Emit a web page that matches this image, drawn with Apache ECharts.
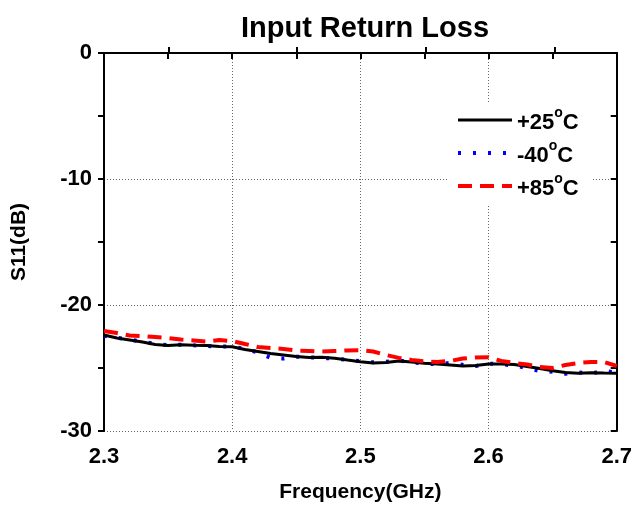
<!doctype html>
<html lang="en">
<head>
    <meta charset="UTF-8">
    <title>Input Return Loss</title>
    <script src="https://cdn.jsdelivr.net/npm/echarts@6.0.0/dist/echarts.min.js"></script>
    <style>
        html, body { margin: 0; padding: 0; background: #fff; }
        #chart { width: 635px; height: 511px; }
    </style>
</head>
<body>
<div id="chart"></div>
<script>
    // 频率 (GHz)
    const freq = [
        2.30, 2.31, 2.32, 2.33, 2.34, 2.35, 2.36, 2.37, 2.38, 2.39,
        2.40, 2.41, 2.42, 2.43, 2.44, 2.45, 2.46, 2.47, 2.48, 2.49,
        2.50, 2.51, 2.52, 2.53, 2.54, 2.55, 2.56, 2.57, 2.58, 2.59,
        2.60, 2.61, 2.62, 2.63, 2.64, 2.65, 2.66, 2.67, 2.68, 2.69, 2.70
    ]
    // S11 (dB) at +25°C
    const s11_25 = [
        -22.38, -22.62, -22.78, -22.94, -23.13, -23.22, -23.15, -23.19, -23.22, -23.29,
        -23.31, -23.53, -23.69, -23.85, -23.97, -24.09, -24.17, -24.15, -24.23, -24.37,
        -24.50, -24.60, -24.56, -24.44, -24.52, -24.62, -24.68, -24.76, -24.84, -24.80,
        -24.68, -24.68, -24.72, -24.88, -25.04, -25.21, -25.36, -25.42, -25.37, -25.40, -25.42
    ]
    // S11 (dB) at -40°C
    const s11_m40 = [
        -22.45, -22.60, -22.75, -22.90, -23.10, -23.18, -23.15, -23.20, -23.25, -23.30,
        -23.28, -23.50, -23.75, -24.20, -24.25, -24.10, -24.15, -24.20, -24.25, -24.35,
        -24.45, -24.55, -24.50, -24.40, -24.55, -24.65, -24.70, -24.60, -24.75, -24.85,
        -24.65, -24.70, -24.80, -25.00, -25.25, -25.30, -25.45, -25.35, -25.45, -25.20, -25.40
    ]
    // S11 (dB) at +85°C
    const s11_85 = [
        -22.06, -22.22, -22.42, -22.46, -22.54, -22.62, -22.74, -22.82, -22.90, -22.78,
        -22.86, -23.10, -23.33, -23.41, -23.49, -23.61, -23.65, -23.70, -23.65, -23.61,
        -23.59, -23.69, -23.97, -24.20, -24.36, -24.48, -24.52, -24.44, -24.25, -24.17,
        -24.15, -24.44, -24.60, -24.72, -24.92, -25.00, -24.76, -24.60, -24.52, -24.52, -24.84
    ]
    const seriesNames = ['+25°C', '-40°C', '+85°C']

    const pairs = (ys) => freq.map((f, i) => [f, ys[i]])

    const font = 'Liberation Sans, Arial, sans-serif'
    const rect = {left: 104, right: 16, top: 53, bottom: 80}

    const chart = echarts.init(document.getElementById('chart'), null, {renderer: 'canvas'})
    const option = {
        backgroundColor: '#fff',
        animation: false,
        title: {
            text: 'Input Return Loss',
            left: 360,
            textAlign: 'center',
            top: 9,
            textStyle: {fontFamily: font, fontSize: 29, fontWeight: 'bold', color: '#000'}
        },
        legend: {
            orient: 'vertical',
            left: 448,
            top: 102,
            itemWidth: 54,
            itemHeight: 14,
            itemGap: 5,
            padding: [4, 14, 4, 8],
            backgroundColor: '#fff',
            data: seriesNames,
            itemStyle: {opacity: 0},
            lineStyle: {width: 'inherit'},
            //度数的o做成上标
            formatter: (name) => {
                const p = name.split('°')
                return '{m|' + p[0] + '}{s|o}{m|' + p[1] + '}'
            },
            textStyle: {
                fontFamily: font, fontSize: 22, fontWeight: 'bold', color: '#000',
                rich: {
                    m: {fontFamily: font, fontSize: 22, fontWeight: 'bold', color: '#000',
                        verticalAlign: 'bottom', lineHeight: 28},
                    s: {fontFamily: font, fontSize: 14, fontWeight: 'bold', color: '#000',
                        verticalAlign: 'top', lineHeight: 10}
                }
            }
        },
        //两个重叠的grid: 第二个只用来画朝内的次刻度
        grid: [rect, rect],
        xAxis: [
            {
                type: 'value', gridIndex: 0, position: 'bottom',
                min: 2.3, max: 2.7, interval: 0.1,
                name: 'Frequency(GHz)', nameLocation: 'middle', nameGap: 51,
                nameTextStyle: {fontFamily: font, fontSize: 21, fontWeight: 'bold', color: '#000'},
                axisLine: {lineStyle: {color: '#000', width: 2}},
                axisTick: {inside: false, length: 6, lineStyle: {color: '#000', width: 2}},
                axisLabel: {
                    margin: 15, formatter: (v) => v.toFixed(1),
                    fontFamily: font, fontSize: 22, fontWeight: 'bold', color: '#000'
                },
                splitLine: {show: true, lineStyle: {color: '#666', type: [1, 2], width: 1}}
            },
            {
                type: 'value', gridIndex: 0, position: 'top',
                min: 2.3, max: 2.7, interval: 0.1,
                axisLine: {lineStyle: {color: '#000', width: 2}},
                axisTick: {inside: true, length: 6, lineStyle: {color: '#000', width: 2}},
                minorTick: {show: true, splitNumber: 2, length: 6, lineStyle: {color: '#000', width: 2}},
                axisLabel: {show: false},
                splitLine: {show: false}
            },
            {
                type: 'value', gridIndex: 1, position: 'bottom',
                min: 2.3, max: 2.7, interval: 0.1,
                axisLine: {show: false},
                axisTick: {show: false, inside: true},
                minorTick: {show: true, splitNumber: 2, length: 6, lineStyle: {color: '#000', width: 2}},
                axisLabel: {show: false},
                splitLine: {show: false}
            }
        ],
        yAxis: [
            {
                type: 'value', gridIndex: 0, position: 'left',
                min: -30, max: 0, interval: 10,
                name: 'S11(dB)', nameLocation: 'middle', nameGap: 74, nameRotate: 90,
                nameTextStyle: {fontFamily: font, fontSize: 21, fontWeight: 'bold', color: '#000'},
                axisLine: {lineStyle: {color: '#000', width: 2}},
                axisTick: {inside: false, length: 6, lineStyle: {color: '#000', width: 2}},
                minorTick: {show: true, splitNumber: 2, length: 6, lineStyle: {color: '#000', width: 2}},
                axisLabel: {
                    margin: 12,
                    fontFamily: font, fontSize: 22, fontWeight: 'bold', color: '#000'
                },
                splitLine: {show: true, lineStyle: {color: '#666', type: [1, 2], width: 1}}
            },
            {
                type: 'value', gridIndex: 0, position: 'right',
                min: -30, max: 0, interval: 10,
                axisLine: {show: true, lineStyle: {color: '#000', width: 2}},
                axisTick: {show: true, inside: true, length: 6, lineStyle: {color: '#000', width: 2}},
                minorTick: {show: true, splitNumber: 2, length: 6, lineStyle: {color: '#000', width: 2}},
                axisLabel: {show: false},
                splitLine: {show: false}
            },
            {
                type: 'value', gridIndex: 1,
                min: -30, max: 0, interval: 10,
                axisLine: {show: false}, axisTick: {show: false},
                axisLabel: {show: false}, splitLine: {show: false}
            }
        ],
        series: [
            {
                name: seriesNames[0], type: 'line', xAxisIndex: 0, yAxisIndex: 0,
                data: pairs(s11_25), symbol: 'none', z: 4,
                itemStyle: {color: '#000'},
                lineStyle: {color: '#000', width: 3}
            },
            {
                name: seriesNames[1], type: 'line', xAxisIndex: 0, yAxisIndex: 0,
                data: pairs(s11_m40), symbol: 'none', z: 3,
                itemStyle: {color: '#0000ff'},
                lineStyle: {color: '#0000ff', width: 4, type: [3, 12]}
            },
            {
                name: seriesNames[2], type: 'line', xAxisIndex: 0, yAxisIndex: 0,
                data: pairs(s11_85), symbol: 'none', z: 5,
                itemStyle: {color: '#ff0000'},
                lineStyle: {color: '#ff0000', width: 4, type: [14, 8]}
            }
        ]
    }
    chart.setOption(option)
</script>
</body>
</html>
